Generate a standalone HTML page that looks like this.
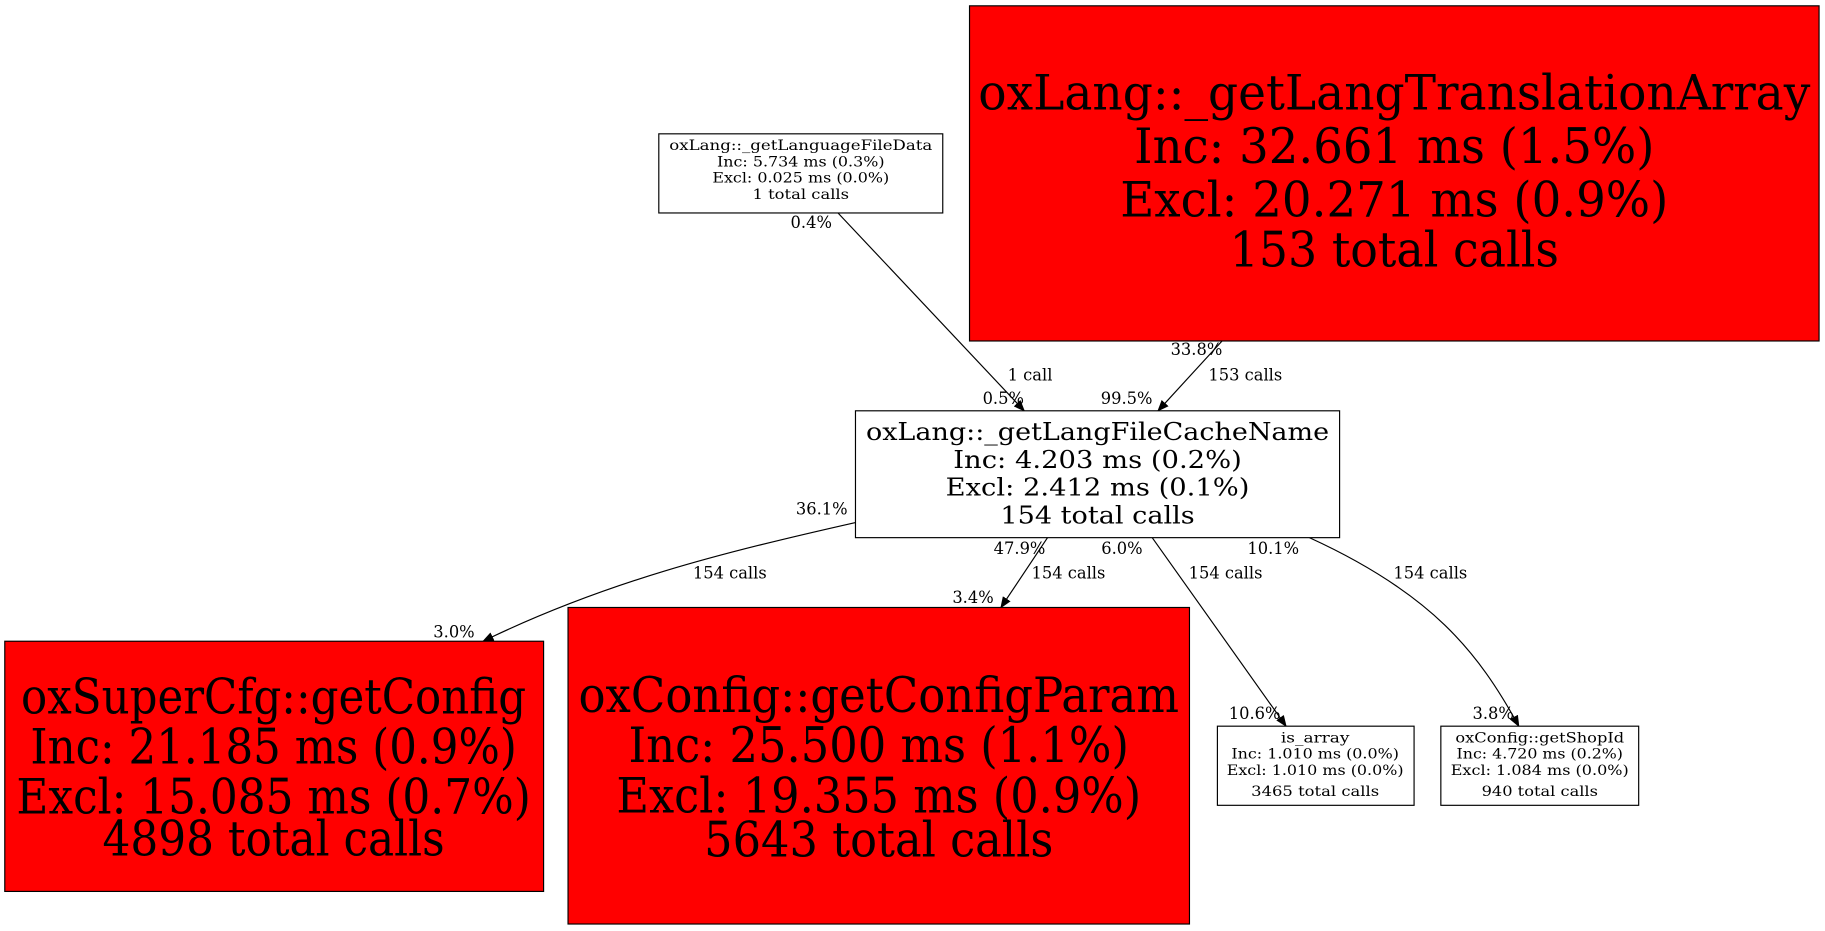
<!DOCTYPE html>
<html><head><meta charset="utf-8"><style>
html,body{margin:0;padding:0;background:#fff;}
svg{display:block;}
text{font-family:"DejaVu Serif","Liberation Serif",serif;fill:#000;}
</style></head><body>
<svg width="1825" height="931" viewBox="0 0 1568 800" xmlns="http://www.w3.org/2000/svg">
<defs><marker id="a" markerWidth="10" markerHeight="8" refX="9" refY="4" orient="auto" markerUnits="userSpaceOnUse"><path d="M0,0 L10,4 L0,8 z" fill="#000"/></marker></defs>
<g fill="none" stroke="#000" stroke-width="1">
<path d="M720,183 L880,353" marker-end="url(#a)"/>
<path d="M1050,293 L995,353" marker-end="url(#a)"/>
<path d="M735,449 C620,475 520,500 415,551" marker-end="url(#a)"/>
<path d="M900,462 L860,522" marker-end="url(#a)"/>
<path d="M990,462 L1105,624" marker-end="url(#a)"/>
<path d="M1125,462 C1230,510 1270,560 1305,624" marker-end="url(#a)"/>
</g>
<g text-anchor="middle">
<rect x="566" y="115" width="244" height="68" fill="#fff" stroke="#000"/>
<g font-size="12">
<text x="688" y="129" textLength="226" lengthAdjust="spacingAndGlyphs">oxLang::_getLanguageFileData</text>
<text x="688" y="143" textLength="144" lengthAdjust="spacingAndGlyphs">Inc: 5.734 ms (0.3%)</text>
<text x="688" y="157" textLength="152" lengthAdjust="spacingAndGlyphs">Excl: 0.025 ms (0.0%)</text>
<text x="688" y="171" textLength="83" lengthAdjust="spacingAndGlyphs">1 total calls</text>
</g>
<rect x="833" y="5" width="730" height="288" fill="#f00" stroke="#000"/>
<g font-size="42">
<text x="1198" y="94" textLength="715" lengthAdjust="spacingAndGlyphs">oxLang::_getLangTranslationArray</text>
<text x="1198" y="140" textLength="447" lengthAdjust="spacingAndGlyphs">Inc: 32.661 ms (1.5%)</text>
<text x="1198" y="186" textLength="471" lengthAdjust="spacingAndGlyphs">Excl: 20.271 ms (0.9%)</text>
<text x="1198" y="229" textLength="283" lengthAdjust="spacingAndGlyphs">153 total calls</text>
</g>
<rect x="735" y="353" width="416" height="109" fill="#fff" stroke="#000"/>
<g font-size="21">
<text x="943" y="378" textLength="398" lengthAdjust="spacingAndGlyphs">oxLang::_getLangFileCacheName</text>
<text x="943" y="402" textLength="248" lengthAdjust="spacingAndGlyphs">Inc: 4.203 ms (0.2%)</text>
<text x="943" y="426" textLength="261" lengthAdjust="spacingAndGlyphs">Excl: 2.412 ms (0.1%)</text>
<text x="943" y="450" textLength="167" lengthAdjust="spacingAndGlyphs">154 total calls</text>
</g>
<rect x="4" y="551" width="463" height="215" fill="#f00" stroke="#000"/>
<g font-size="42">
<text x="235" y="613" textLength="434" lengthAdjust="spacingAndGlyphs">oxSuperCfg::getConfig</text>
<text x="235" y="656" textLength="418" lengthAdjust="spacingAndGlyphs">Inc: 21.185 ms (0.9%)</text>
<text x="235" y="699" textLength="442" lengthAdjust="spacingAndGlyphs">Excl: 15.085 ms (0.7%)</text>
<text x="235" y="735" textLength="294" lengthAdjust="spacingAndGlyphs">4898 total calls</text>
</g>
<rect x="488" y="522" width="534" height="272" fill="#f00" stroke="#000"/>
<g font-size="42">
<text x="755" y="612" textLength="516" lengthAdjust="spacingAndGlyphs">oxConfig::getConfigParam</text>
<text x="755" y="655" textLength="430" lengthAdjust="spacingAndGlyphs">Inc: 25.500 ms (1.1%)</text>
<text x="755" y="698" textLength="451" lengthAdjust="spacingAndGlyphs">Excl: 19.355 ms (0.9%)</text>
<text x="755" y="736" textLength="300" lengthAdjust="spacingAndGlyphs">5643 total calls</text>
</g>
<rect x="1046" y="624" width="169" height="68" fill="#fff" stroke="#000"/>
<g font-size="12">
<text x="1130" y="638" textLength="59" lengthAdjust="spacingAndGlyphs">is_array</text>
<text x="1130" y="652" textLength="144" lengthAdjust="spacingAndGlyphs">Inc: 1.010 ms (0.0%)</text>
<text x="1130" y="666" textLength="152" lengthAdjust="spacingAndGlyphs">Excl: 1.010 ms (0.0%)</text>
<text x="1130" y="684" textLength="110" lengthAdjust="spacingAndGlyphs">3465 total calls</text>
</g>
<rect x="1238" y="624" width="170" height="68" fill="#fff" stroke="#000"/>
<g font-size="12">
<text x="1323" y="638" textLength="145" lengthAdjust="spacingAndGlyphs">oxConfig::getShopId</text>
<text x="1323" y="652" textLength="143" lengthAdjust="spacingAndGlyphs">Inc: 4.720 ms (0.2%)</text>
<text x="1323" y="666" textLength="153" lengthAdjust="spacingAndGlyphs">Excl: 1.084 ms (0.0%)</text>
<text x="1323" y="684" textLength="100" lengthAdjust="spacingAndGlyphs">940 total calls</text>
</g>
</g>
<g font-size="14" text-anchor="middle">
<text x="697" y="196">0.4%</text>
<text x="885" y="327">1 call</text>
<text x="862" y="347">0.5%</text>
<text x="1028" y="305">33.8%</text>
<text x="1070" y="327">153 calls</text>
<text x="968" y="347">99.5%</text>
<text x="706" y="442">36.1%</text>
<text x="627" y="497">154 calls</text>
<text x="390" y="548">3.0%</text>
<text x="876" y="476">47.9%</text>
<text x="918" y="497">154 calls</text>
<text x="836" y="518">3.4%</text>
<text x="964" y="476">6.0%</text>
<text x="1053" y="497">154 calls</text>
<text x="1078" y="618">10.6%</text>
<text x="1094" y="476">10.1%</text>
<text x="1229" y="497">154 calls</text>
<text x="1283" y="618">3.8%</text>
</g>
</svg>
</body></html>
